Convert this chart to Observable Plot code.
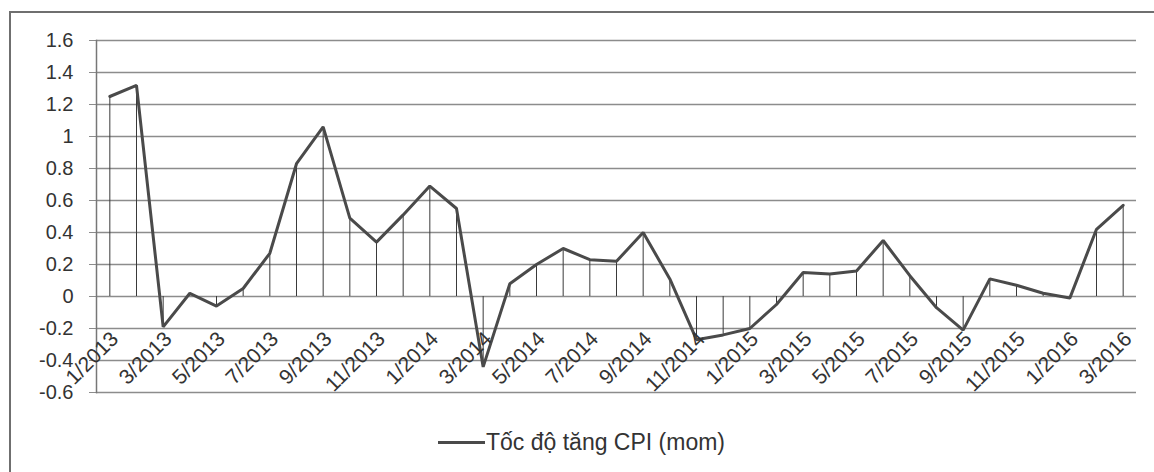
<!DOCTYPE html>
<html>
<head>
<meta charset="utf-8">
<script src="https://cdn.jsdelivr.net/npm/d3@7"></script>
<script src="https://cdn.jsdelivr.net/npm/@observablehq/plot@0.6"></script>
<style>
  html, body { margin: 0; padding: 0; background: #ffffff; overflow: hidden; }
  body { width: 1154px; height: 472px; position: relative; font-family: "Liberation Sans", Arial, sans-serif; }
  #border { position: absolute; left: 9px; top: 11px; width: 1200px; height: 520px;
            border-left: 2px solid #6f6f6f; border-top: 2px solid #6f6f6f; }
  #chart { position: absolute; left: 0; top: 0; }
  #legend { position: absolute; left: 438px; top: 427px; height: 30px; display: flex; align-items: center;
            font-size: 23px; color: #333; white-space: nowrap; }
  #legend .swatch { width: 47px; height: 3px; background: #4a4a4a; margin-right: 1px; }
</style>
</head>
<body>
<div id="border"></div>
<div id="chart"></div>
<div id="legend"><span class="swatch"></span><span>Tốc độ tăng CPI (mom)</span></div>
<script>
const months = [
  "1/2013","2/2013","3/2013","4/2013","5/2013","6/2013","7/2013","8/2013","9/2013","10/2013","11/2013","12/2013",
  "1/2014","2/2014","3/2014","4/2014","5/2014","6/2014","7/2014","8/2014","9/2014","10/2014","11/2014","12/2014",
  "1/2015","2/2015","3/2015","4/2015","5/2015","6/2015","7/2015","8/2015","9/2015","10/2015","11/2015","12/2015",
  "1/2016","2/2016","3/2016"
];
const cpiMom = [
  1.25, 1.32, -0.19, 0.02, -0.06, 0.05, 0.27, 0.83, 1.06, 0.49, 0.34, 0.51,
  0.69, 0.55, -0.44, 0.08, 0.20, 0.30, 0.23, 0.22, 0.40, 0.11, -0.27, -0.24,
  -0.20, -0.05, 0.15, 0.14, 0.16, 0.35, 0.13, -0.07, -0.21, 0.11, 0.07, 0.02,
  -0.01, 0.42, 0.57
];
const tickLabels = [
  "1/2013","3/2013","5/2013","7/2013","9/2013","11/2013",
  "1/2014","3/2014","5/2014","7/2014","9/2014","11/2014",
  "1/2015","3/2015","5/2015","7/2015","9/2015","11/2015",
  "1/2016","3/2016"
];
const yTicks = [-0.6, -0.4, -0.2, 0, 0.2, 0.4, 0.6, 0.8, 1, 1.2, 1.4, 1.6];

const data = months.map((m, i) => ({month: m, value: cpiMom[i]}));
const labelData = tickLabels.map(t => ({month: t, zero: 0}));

const chart = Plot.plot({
  width: 1154,
  height: 420,
  marginLeft: 96,
  marginRight: 18,
  marginTop: 40,
  marginBottom: 28,
  style: {fontFamily: "'Liberation Sans', Arial, sans-serif", background: "transparent", color: "#333"},
  x: {type: "point", domain: months, padding: 0.5, round: false, axis: null},
  y: {domain: [-0.6, 1.6], axis: null},
  marks: [
    Plot.ruleY(yTicks, {stroke: "#8c8c8c", strokeWidth: 1.5}),
    Plot.axisY({ticks: yTicks, tickSize: 7, tickPadding: 16, fontSize: 20, stroke: "#8c8c8c",
                tickFormat: d => String(+d.toFixed(1))}),
    Plot.frame({anchor: "left", stroke: "#777", strokeWidth: 1.5}),
    Plot.ruleX(data, {x: "month", y1: 0, y2: "value", stroke: "#3a3a3a", strokeWidth: 1}),
    Plot.line(data, {x: "month", y: "value", stroke: "#4a4a4a", strokeWidth: 3, strokeLinejoin: "miter"}),
    Plot.text(labelData, {x: "month", y: "zero", text: "month", rotate: -45, textAnchor: "end",
                          dx: 5, dy: 39, fontSize: 21, fill: "#333"})
  ]
});
document.getElementById("chart").appendChild(chart);
</script>
</body>
</html>
